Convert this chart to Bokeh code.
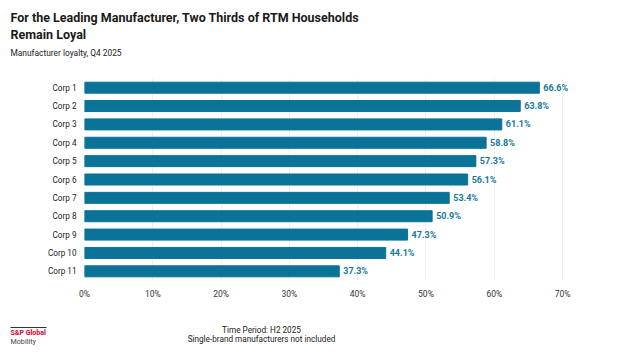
from bokeh.plotting import figure
from bokeh.layouts import column, row
from bokeh.models import Range1d, FactorRange, Label, FixedTicker, PrintfTickFormatter
from bokeh.core.properties import value
from bokeh.embed import file_html
from bokeh.resources import INLINE

corps = ["Corp 1", "Corp 2", "Corp 3", "Corp 4", "Corp 5", "Corp 6",
         "Corp 7", "Corp 8", "Corp 9", "Corp 10", "Corp 11"]
loyalty = [66.6, 63.8, 61.1, 58.8, 57.3, 56.1, 53.4, 50.9, 47.3, 44.1, 37.3]
value_labels = [f"{v:.1f}%" for v in loyalty]
x_ticks = [0, 10, 20, 30, 40, 50, 60, 70]

title_1 = "For the Leading Manufacturer, Two Thirds of RTM Households"
title_2 = "Remain Loyal"
subtitle = "Manufacturer loyalty, Q4 2025"
footer_1 = "Time Period: H2 2025"
footer_2 = "Single-brand manufacturers not included"
logo_1 = "S&P Global"
logo_2 = "Mobility"

FONT = "Roboto"
BAR = "#0b7397"
LBL = "#15799c"

W = 624
HEAD_H, MAIN_H, FOOT_H = 62, 248, 42


def text_panel(height):
    f = figure(width=W, height=height, output_backend="svg", toolbar_location=None,
               x_range=Range1d(0, W), y_range=Range1d(height, 0),
               x_axis_type=None, y_axis_type=None, min_border=0)
    f.outline_line_color = None
    f.grid.grid_line_color = None
    f.background_fill_color = "white"
    f.border_fill_color = "white"
    return f


def lab(f, x, y, text, size, style="normal", color="#1a1a1a", align="left"):
    f.add_layout(Label(x=x, y=y, text=text, text_font=FONT, text_font_size=size,
                       text_font_style=style, text_color=color,
                       text_align=align, text_baseline="middle"))


# header
head = text_panel(HEAD_H)
lab(head, 10, 17, title_1, "12.5px", "bold")
lab(head, 10, 34, title_2, "12.5px", "bold")
lab(head, 10, 52, subtitle, "8.4px", color="#222222")

# main chart
p = figure(width=W, height=MAIN_H, output_backend="svg", toolbar_location=None,
           y_range=FactorRange(factors=list(reversed(corps))),
           x_range=Range1d(0, 77.6),
           min_border_left=84, min_border_right=10,
           min_border_top=16, min_border_bottom=30)
p.outline_line_color = None
p.background_fill_color = "white"
p.border_fill_color = "white"

p.hbar(y=corps, right=loyalty, left=0, height=0.6, color=BAR)
p.text(x=loyalty, y=corps, text=value_labels, x_offset=4,
       text_baseline="middle", text_align="left",
       text_font=value(FONT), text_font_style="bold",
       text_font_size="9px", text_color=LBL)

p.xaxis.ticker = FixedTicker(ticks=x_ticks)
p.xaxis.formatter = PrintfTickFormatter(format="%d%%")
p.xaxis.axis_line_color = None
p.xaxis.major_tick_line_color = None
p.xaxis.minor_tick_line_color = None
p.xaxis.major_label_standoff = 2
p.xaxis.major_label_text_font = FONT
p.xaxis.major_label_text_font_size = "8.5px"
p.xaxis.major_label_text_color = "#333333"

p.yaxis.axis_line_color = None
p.yaxis.major_tick_line_color = None
p.yaxis.minor_tick_line_color = None
p.yaxis.major_label_standoff = 2
p.yaxis.major_label_text_font = FONT
p.yaxis.major_label_text_font_size = "8.2px"
p.yaxis.major_label_text_color = "#222222"

p.ygrid.grid_line_color = None
p.xgrid.grid_line_color = "#efefef"
p.xgrid.ticker = FixedTicker(ticks=x_ticks)

# footer
foot = text_panel(FOOT_H)
lab(foot, 261, 19, footer_1, "8.2px", color="#222222", align="center")
lab(foot, 261, 28.5, footer_2, "8.2px", color="#222222", align="center")
foot.segment(x0=[10], y0=[17], x1=[46], y1=[17], line_color="#333333", line_width=1)
lab(foot, 10, 22.5, logo_1, "7px", "bold", color="#d6002a")
lab(foot, 10, 30.5, logo_2, "7.2px", color="#444444")

layout = column(row(head), row(p), row(foot), spacing=0)
out = file_html(layout, INLINE)
open("out.html", "w").write(out)
